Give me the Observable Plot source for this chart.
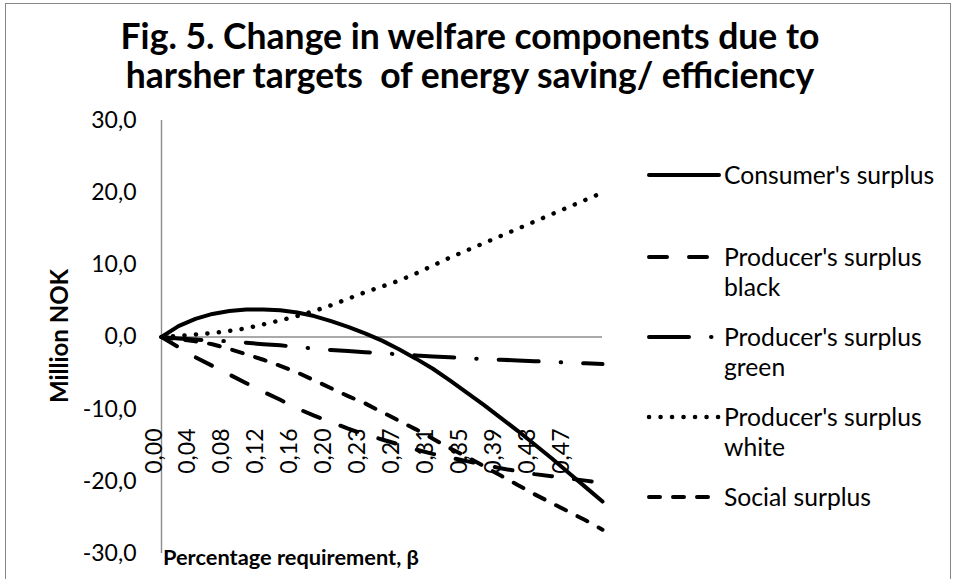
<!DOCTYPE html>
<html>
<head>
<meta charset="utf-8">
<script src="https://cdn.jsdelivr.net/npm/d3@7"></script>
<script src="https://cdn.jsdelivr.net/npm/@observablehq/plot@0.6"></script>
<style>
  html, body { margin: 0; padding: 0; background: #fff; }
  #chart { position: relative; width: 957px; height: 579px; overflow: hidden; font-family: Lato, "Open Sans", sans-serif; color: #000; }
  #border { position: absolute; left: 5px; top: 3px; width: 946px; height: 600px; border: 1px solid #868686; box-sizing: border-box; }
  #title { position: absolute; left: 0; top: 16px; width: 940px; text-align: center; font-weight: bold; font-size: 35.5px; line-height: 39px; }
  #plot { position: absolute; left: 0; top: 0; }
  .ytitle { position: absolute; left: 58px; top: 336px; transform: translate(-50%, -50%) rotate(-90deg); font-weight: bold; font-size: 24px; white-space: nowrap; }
  .xtitle { position: absolute; left: 163px; top: 556px; transform: translateY(-50%); font-weight: bold; font-size: 21.8px; white-space: nowrap; }
  .lg { position: absolute; left: 724px; font-size: 24.7px; line-height: 30px; white-space: nowrap; transform: translateY(-50%); }
  .sw { position: absolute; left: 645px; width: 78px; height: 12px; transform: translateY(-50%); }
</style>
</head>
<body>
<div id="chart">
  <div id="border"></div>
  <div id="plot"></div>
  <div id="title">Fig. 5. Change in welfare components due to<br>harsher targets&nbsp; of energy saving/ efficiency</div>
  <div class="ytitle">Million NOK</div>
  <div class="xtitle">Percentage requirement, β</div>
  <div id="legend"></div>
</div>
<script>
// Category labels (percentage requirement β)
const betaLabels = ["0,00","0,02","0,04","0,06","0,08","0,10","0,12","0,14","0,16","0,18","0,20","0,21","0,23","0,25","0,27","0,29","0,31","0,33","0,35","0,37","0,39","0,41","0,43","0,45","0,47","0,49","0,51"];
// Labels that the category axis shows
const shownLabels = ["0,00","0,04","0,08","0,12","0,16","0,20","0,23","0,27","0,31","0,35","0,39","0,43","0,47"];
// Y tick values
const yTicks = [-30, -20, -10, 0, 10, 20, 30];
// Series (million NOK)
const consumerSurplus = [0, 1.5, 2.5, 3.2, 3.6, 3.8, 3.8, 3.7, 3.4, 2.9, 2.2, 1.4, 0.5, -0.5, -1.7, -3.0, -4.4, -6.0, -7.7, -9.4, -11.2, -13.0, -14.9, -16.8, -18.8, -20.8, -22.8];
const producerBlack = [0, -1.4, -2.8, -4.0, -5.2, -6.4, -7.6, -8.7, -9.9, -10.9, -11.8, -12.7, -13.5, -14.2, -14.9, -15.6, -16.2, -16.7, -17.2, -17.7, -18.2, -18.6, -19.0, -19.3, -19.6, -19.9, -20.2];
const producerGreen = [0, -0.2, -0.35, -0.5, -0.6, -0.8, -1.0, -1.15, -1.4, -1.6, -1.8, -1.95, -2.1, -2.25, -2.4, -2.55, -2.7, -2.8, -2.95, -3.05, -3.15, -3.25, -3.35, -3.45, -3.55, -3.65, -3.75];
const producerWhite = [0, 0.15, 0.35, 0.55, 0.85, 1.2, 1.75, 2.3, 2.9, 3.6, 4.4, 5.3, 6.2, 7.0, 7.8, 8.8, 9.9, 11.0, 12.0, 13.0, 14.0, 15.0, 16.0, 17.0, 18.0, 19.0, 20.0];
const socialSurplus = [0, -0.3, -0.6, -1.0, -1.65, -2.4, -3.15, -4.0, -4.9, -6.0, -7.1, -8.2, -9.2, -10.4, -11.6, -12.8, -14.1, -15.4, -16.6, -17.9, -19.2, -20.5, -21.8, -23.0, -24.2, -25.4, -26.7];

const seriesNames = ["Consumer's surplus", "Producer's surplus black", "Producer's surplus green", "Producer's surplus white", "Social surplus"];
const seriesValues = [consumerSurplus, producerBlack, producerGreen, producerWhite, socialSurplus];
const legendLines = [["Consumer's surplus"], ["Producer's surplus", "black"], ["Producer's surplus", "green"], ["Producer's surplus", "white"], ["Social surplus"]];

const styles = [
  {strokeWidth: 4, dash: null},
  {strokeWidth: 4, dash: "18,22"},
  {strokeWidth: 4, dash: "40,22,0.5,22"},
  {strokeWidth: 4.5, dash: "0.1,11.4"},
  {strokeWidth: 4, dash: "11,13"}
];

const rows = seriesNames.flatMap((name, s) => seriesValues[s].map((v, i) => ({series: name, beta: betaLabels[i], value: v})));

const fmt = d => d.toFixed(1).replace(".", ",");

const lineMarks = seriesNames.map((name, s) => Plot.line(rows.filter(r => r.series === name), {
  x: "beta", y: "value", stroke: "#000", strokeWidth: styles[s].strokeWidth,
  strokeDasharray: styles[s].dash, strokeLinecap: "round", strokeLinejoin: "round"
}));

const chart = Plot.plot({
  width: 957,
  height: 579,
  marginLeft: 161,
  marginRight: 355,
  marginTop: 120,
  marginBottom: 26,
  x: {type: "point", domain: betaLabels, padding: 0, round: false, axis: null},
  y: {domain: [-30, 30], axis: null},
  style: {fontFamily: "Lato, 'Open Sans', sans-serif", fontSize: "23px", background: "transparent", color: "#000", overflow: "visible"},
  marks: [
    Plot.ruleY([0], {stroke: "#8c8c8c", strokeWidth: 1.4}),
    Plot.ruleX([betaLabels[0]], {stroke: "#8c8c8c", strokeWidth: 1.4}),
    Plot.axisY(yTicks, {anchor: "left", tickSize: 0, tickPadding: 25, tickFormat: fmt, fontSize: 23, label: null, fill: "#000"}),
    Plot.text(shownLabels, {x: d => d, text: d => d, frameAnchor: "bottom", rotate: -90, textAnchor: "end", dy: -125, fontSize: 23, fill: "#000"}),
    ...lineMarks
  ]
});
document.getElementById("plot").appendChild(chart);

// Legend
const legendCenters = [175, 257, 337, 417, 497];
const legend = document.getElementById("legend");
seriesNames.forEach((name, s) => {
  const cy = legendCenters[s];
  const sw = document.createElementNS("http://www.w3.org/2000/svg", "svg");
  sw.setAttribute("class", "sw");
  sw.setAttribute("width", 78); sw.setAttribute("height", 12);
  sw.style.top = cy + "px";
  const ln = document.createElementNS("http://www.w3.org/2000/svg", "line");
  ln.setAttribute("x1", 4); ln.setAttribute("x2", 74); ln.setAttribute("y1", 6); ln.setAttribute("y2", 6);
  ln.setAttribute("stroke", "#000");
  ln.setAttribute("stroke-width", styles[s].strokeWidth);
  ln.setAttribute("stroke-linecap", "round");
  if (styles[s].dash) ln.setAttribute("stroke-dasharray", styles[s].dash);
  sw.appendChild(ln);
  legend.appendChild(sw);
  legendLines[s].forEach((t, k) => {
    const div = document.createElement("div");
    div.className = "lg";
    div.textContent = t;
    div.style.top = (cy + k * 30) + "px";
    legend.appendChild(div);
  });
});
</script>
</body>
</html>
